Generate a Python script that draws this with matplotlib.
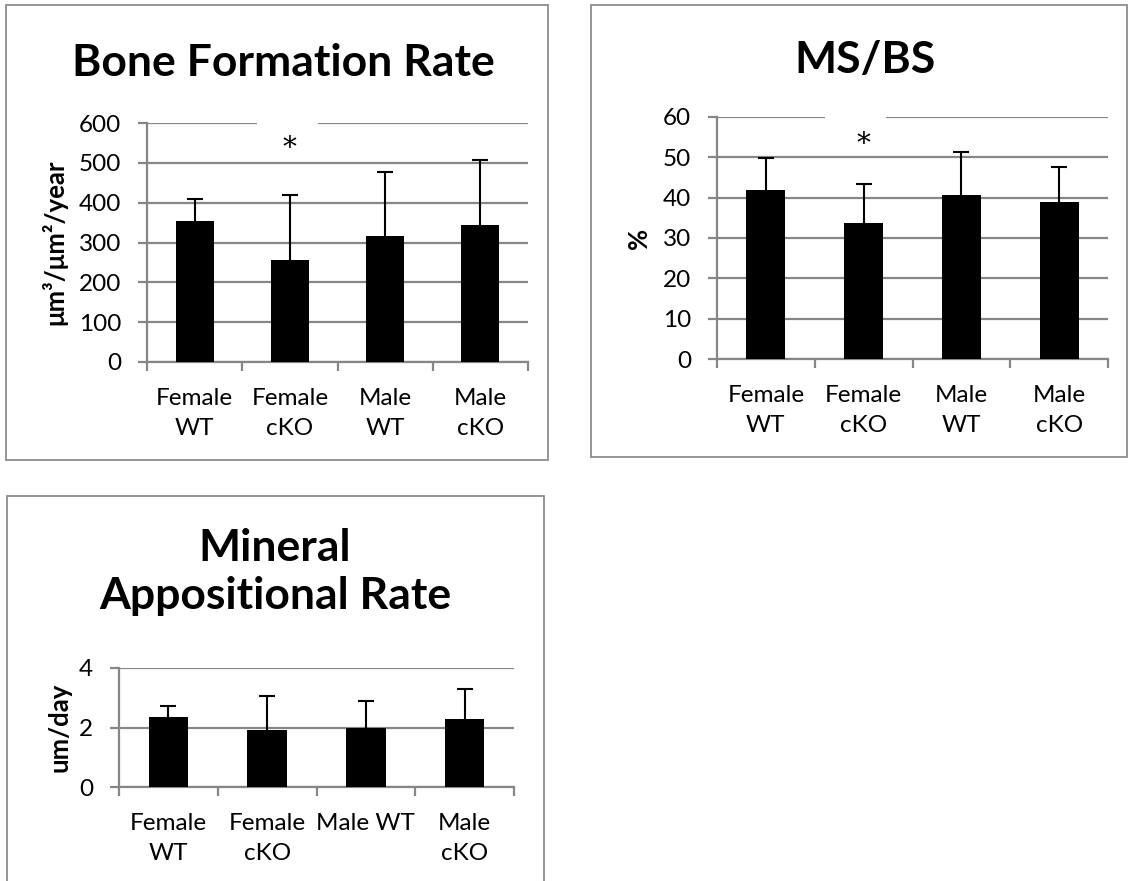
import matplotlib
matplotlib.use("Agg")
import matplotlib.pyplot as plt
from matplotlib.patches import Rectangle

plt.rcParams['font.family'] = ['Lato', 'DejaVu Sans']

categories = ["Female\nWT", "Female\ncKO", "Male\nWT", "Male\ncKO"]
categories_mar = ["Female\nWT", "Female\ncKO", "Male WT", "Male\ncKO"]

bfr_mean = [355, 255, 316, 345]
bfr_err = [55, 163, 162, 163]

msbs_mean = [42.0, 33.6, 40.7, 38.9]
msbs_err = [7.8, 9.8, 10.6, 8.8]

mar_mean = [2.35, 1.93, 1.98, 2.30]
mar_err = [0.37, 1.13, 0.92, 1.00]

W, H = 1133, 881
GRAY = '#868686'
fig = plt.figure(figsize=(W / 100, H / 100), dpi=100)


def fbox(x0, y0, x1, y1):
    return [x0 / W, 1 - y1 / H, (x1 - x0) / W, (y1 - y0) / H]


def border(x0, y0, x1, y1):
    fig.patches.append(Rectangle((x0 / W, 1 - y1 / H), (x1 - x0) / W, (y1 - y0) / H,
                                 transform=fig.transFigure, fill=False,
                                 edgecolor='#8c8c8c', lw=1.3))


def panel(rect, labels, means, errs, ymax, ystep, ylabel, ylab_x, star=None):
    ax = fig.add_axes(fbox(*rect))
    x = list(range(len(means)))
    tops = [m + e for m, e in zip(means, errs)]
    ax.bar(x, means, width=0.4, color='black', zorder=3)
    ax.vlines(x, means, tops, color='black', lw=1.5, zorder=4)
    ax.plot(x, tops, linestyle='none', marker='_', markersize=12,
            markeredgewidth=1.5, color='black', zorder=4)
    ax.set_xlim(-0.5, len(means) - 0.5)
    ax.set_ylim(0, ymax)
    ticks = [i * ystep for i in range(int(round(ymax / ystep)) + 1)]
    ax.set_yticks(ticks)
    ax.set_yticklabels([f"{t:g}" for t in ticks])
    ax.yaxis.grid(True, color=GRAY, lw=1.6, zorder=0)
    ax.set_axisbelow(True)
    for s in ['top', 'right']:
        ax.spines[s].set_visible(False)
    for s in ['left', 'bottom']:
        ax.spines[s].set_color(GRAY)
        ax.spines[s].set_linewidth(1.6)
    ax.set_xticks(x)
    ax.set_xticklabels(labels, fontsize=17.5, linespacing=1.55)
    ax.set_xticks([i - 0.5 for i in range(len(means) + 1)], minor=True)
    ax.tick_params(axis='x', which='major', length=0, pad=18.5)
    ax.tick_params(axis='x', which='minor', length=6.5, width=1.6, color=GRAY)
    ax.tick_params(axis='y', length=6.5, width=1.6, color=GRAY, labelsize=17.5, pad=12)
    ax.set_ylabel(ylabel, fontsize=18.5, fontweight='bold')
    ax.yaxis.set_label_coords(ylab_x, 0.5)
    if star is not None:
        sx, sy, gap_lo, gap_hi = star
        ax.add_patch(Rectangle((gap_lo, ymax * 0.85), gap_hi - gap_lo, ymax * 0.16,
                               facecolor='white', edgecolor='none', zorder=2,
                               clip_on=False))
        ax.text(sx, sy, '*', ha='center', va='center', fontsize=20,
                family='DejaVu Serif', zorder=5)
    return ax


# Panel 1: Bone Formation Rate
border(6, 5, 548, 460)
ax1 = panel((147, 123, 528, 362), categories, bfr_mean, bfr_err, 600, 100,
            'μm³/μm²/year', -0.21, star=(1.0, 535, 0.66, 1.3))
fig.text(283 / W, 1 - 63 / H, 'Bone Formation Rate', ha='center', va='center',
         fontsize=32, fontweight='bold')

# Panel 2: MS/BS
border(591, 5, 1127, 457)
ax2 = panel((717, 117, 1108, 359), categories, msbs_mean, msbs_err, 60, 10,
            '%', -0.168, star=(1.0, 53.2, 0.6, 1.23))
fig.text(865 / W, 1 - 60 / H, 'MS/BS', ha='center', va='center',
         fontsize=32, fontweight='bold')

# Panel 3: Mineral Appositional Rate
border(7, 496, 544, 900)
ax3 = panel((119, 668, 514, 787), categories_mar, mar_mean, mar_err, 4, 2,
            'um/day', -0.119)
fig.text(275 / W, 1 - 572 / H, 'Mineral\nAppositional Rate', ha='center', va='center',
         fontsize=32, fontweight='bold', linespacing=1.25)

fig.savefig('out.png', dpi=100)
